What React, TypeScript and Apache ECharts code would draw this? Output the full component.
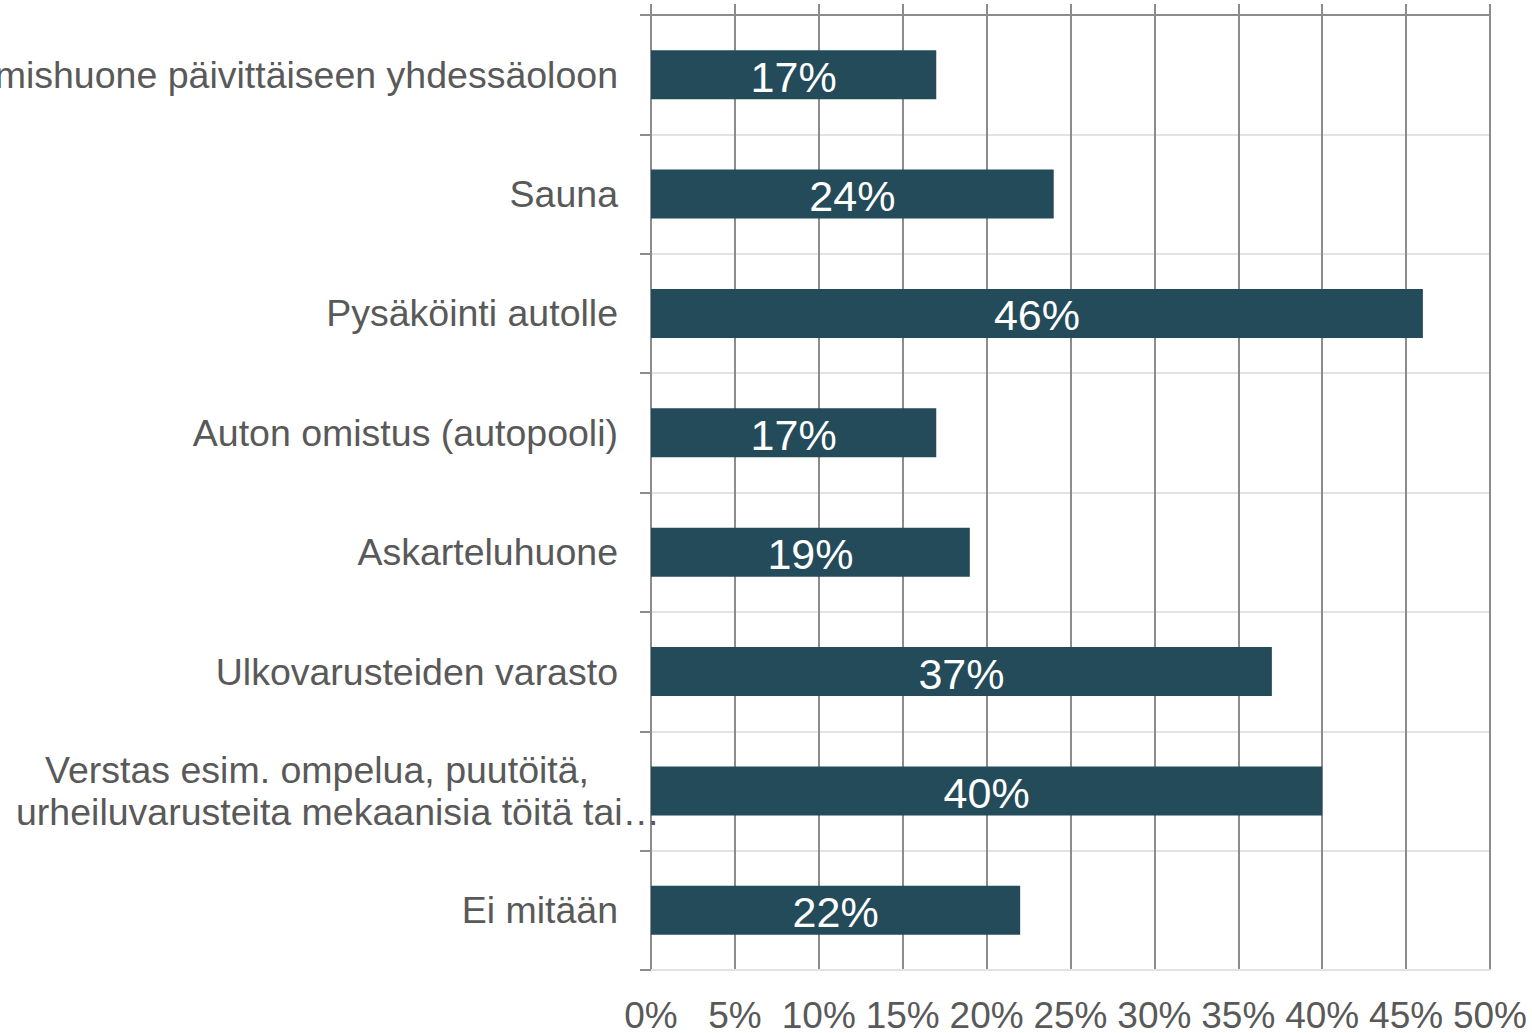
import React, { useEffect, useRef } from "react";
import * as echarts from "echarts";

const categories = [
  "Kokoontumishuone päivittäiseen yhdessäoloon",
  "Sauna",
  "Pysäköinti autolle",
  "Auton omistus (autopooli)",
  "Askarteluhuone",
  "Ulkovarusteiden varasto",
  "Verstas esim. ompelua, puutöitä,\nurheiluvarusteita mekaanisia töitä tai…",
  "Ei mitään",
];
const values = [17, 24, 46, 17, 19, 37, 40, 22];
const axisMin = 0;
const axisMax = 50;
const axisStep = 5;

const BAR = "#234B5A";
const GRID_DARK = "#8C8C8C";
const GRID_LIGHT = "#E2E2E2";
const TEXT = "#595959";
const FONT = "'Liberation Sans', Arial, sans-serif";

export default function App() {
  const ref = useRef<HTMLDivElement>(null);
  useEffect(() => {
    if (!ref.current) return;
    const chart = echarts.init(ref.current, null, { renderer: "svg" });
    const yData = categories.map((c) =>
      c.includes("\n") ? { value: c, textStyle: { width: 602, overflow: "none" } } : c
    );
    chart.setOption({
      animation: false,
      backgroundColor: "#ffffff",
      textStyle: { fontFamily: FONT },
      grid: {
        left: 651,
        right: 42,
        top: 15,
        bottom: 63,
        containLabel: false,
        outerBoundsMode: "none",
      },
      xAxis: [
        {
          type: "value",
          position: "bottom",
          min: axisMin,
          max: axisMax,
          interval: axisStep,
          axisLine: { show: true, lineStyle: { color: GRID_LIGHT, width: 2 } },
          axisTick: { show: false },
          splitLine: { show: true, lineStyle: { color: GRID_DARK, width: 2 } },
          axisLabel: {
            formatter: "{value}%",
            color: TEXT,
            fontSize: 37,
            fontFamily: FONT,
            margin: 27,
            showMinLabel: true,
            showMaxLabel: true,
            hideOverlap: false,
          },
        },
        {
          type: "value",
          position: "top",
          min: axisMin,
          max: axisMax,
          interval: axisStep,
          axisLine: { show: true, lineStyle: { color: GRID_DARK, width: 2 } },
          axisTick: { show: true, length: 11, lineStyle: { color: GRID_DARK, width: 2 } },
          splitLine: { show: false },
          axisLabel: { show: false },
        },
      ],
      yAxis: {
        type: "category",
        data: yData,
        inverse: true,
        boundaryGap: true,
        axisLine: { show: true, lineStyle: { color: GRID_DARK, width: 2 } },
        axisTick: { show: true, length: 11, lineStyle: { color: GRID_DARK, width: 2 } },
        splitLine: { show: true, lineStyle: { color: GRID_LIGHT, width: 2 } },
        axisLabel: {
          margin: 33,
          interval: 0,
          formatter: (v: string) => {
            const lines = v.split("\n");
            if (lines.length === 1) return `{c|${lines[0]}}`;
            return `{c|${lines[0]}}\n{l|${lines[1]}}`;
          },
          rich: {
            c: {
              align: "center",
              color: TEXT,
              fontSize: 37.5,
              fontFamily: FONT,
              lineHeight: 42,
            },
            l: {
              align: "left",
              color: TEXT,
              fontSize: 37.5,
              fontFamily: FONT,
              lineHeight: 42,
            },
          },
        },
      },
      series: [
        {
          type: "bar",
          data: values,
          xAxisIndex: 0,
          barWidth: "41%",
          itemStyle: { color: BAR },
          label: {
            show: true,
            position: "inside",
            offset: [0, 2],
            formatter: "{c}%",
            color: "#ffffff",
            fontSize: 43,
            fontFamily: FONT,
          },
        },
      ],
    });
    return () => chart.dispose();
  }, []);
  return (
    <div
      ref={ref}
      style={{ position: "fixed", left: 0, top: 0, width: 1532, height: 1033 }}
    />
  );
}
